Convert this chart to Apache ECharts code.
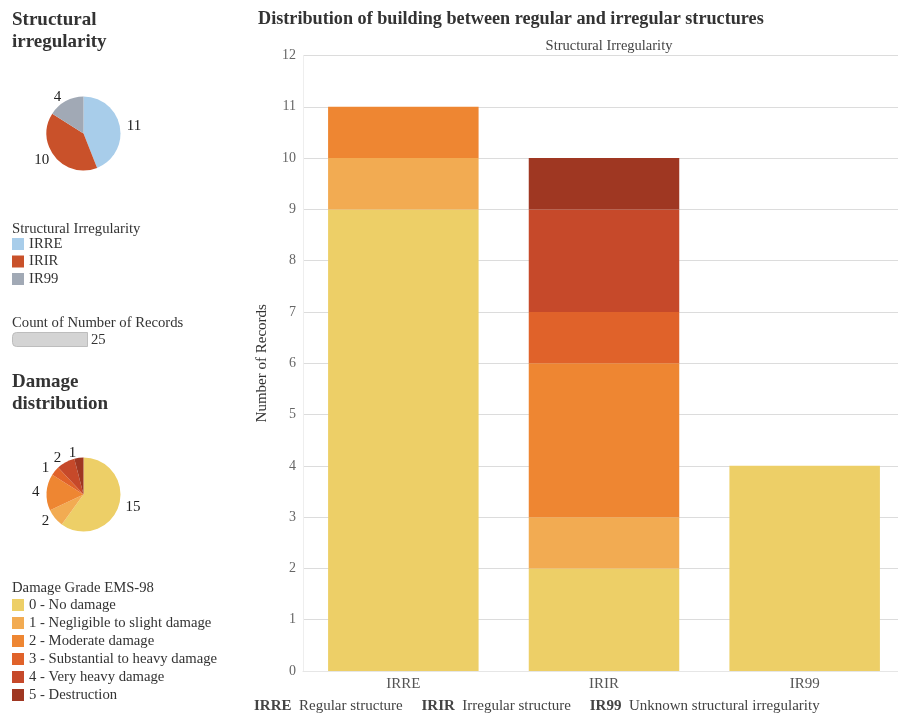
<!DOCTYPE html>
<html>
<head>
<meta charset="utf-8">
<script src="https://cdn.jsdelivr.net/npm/echarts@6/dist/echarts.min.js"></script>
<style>
  html, body { margin: 0; padding: 0; background: #fff; overflow: hidden; }
  #chart { width: 905px; height: 717px; }
</style>
</head>
<body>
<div id="chart"></div>
<script>
// Structure categories and their descriptions
const structures = ['IRRE', 'IRIR', 'IR99'];
const structureNames = ['Regular structure', 'Irregular structure', 'Unknown structural irregularity'];
const structureColors = ['#a8cdea', '#c9512a', '#a1a9b5'];

// Damage grades (EMS-98)
const grades = [
  '0 - No damage',
  '1 - Negligible to slight damage',
  '2 - Moderate damage',
  '3 - Substantial to heavy damage',
  '4 - Very heavy damage',
  '5 - Destruction'
];
const gradeColors = ['#edcf67', '#f2ab52', '#ee8632', '#e0622a', '#c6492a', '#9f3722'];

// Number of records per grade, one entry per structure (IRRE, IRIR, IR99)
const grade0 = [9, 2, 4];
const grade1 = [1, 1, 0];
const grade2 = [1, 3, 0];
const grade3 = [0, 1, 0];
const grade4 = [0, 2, 0];
const grade5 = [0, 1, 0];
const gradeValues = [grade0, grade1, grade2, grade3, grade4, grade5];

const yTicks = { min: 0, max: 12, interval: 1 };

const FONT = 'Liberation Serif';
const SMALL = 14.7;

const sum = a => a.reduce((s, v) => s + v, 0);
const structureTotals = structures.map((_, i) => sum(gradeValues.map(g => g[i])));
const gradeTotals = gradeValues.map(sum);
const totalRecords = sum(structureTotals);

const chart = echarts.init(document.getElementById('chart'));

const barSeries = grades.map((name, gi) => ({
  name,
  type: 'bar',
  stack: 'records',
  barWidth: '75%',
  itemStyle: { color: gradeColors[gi] },
  emphasis: { disabled: true },
  data: gradeValues[gi]
}));

const pieLabel = {
  show: true,
  position: 'outside',
  formatter: '{c}',
  fontFamily: FONT,
  fontSize: 15,
  color: '#222',
  distanceToLabelLine: 2
};

const smallTitle = { fontFamily: FONT, fontSize: SMALL, fontWeight: 'normal', color: '#333' };
const bigTitle = { fontFamily: FONT, fontSize: 19, fontWeight: 'bold', color: '#333', lineHeight: 22 };

chart.setOption({
  animation: false,
  textStyle: { fontFamily: FONT },
  title: [
    {
      text: 'Distribution of building between regular and irregular structures',
      left: 253, top: 5,
      textStyle: { fontFamily: FONT, fontSize: 18.2, fontWeight: 'bold', color: '#333' }
    },
    { text: 'Structural\nirregularity', left: 7, top: 4, textStyle: bigTitle },
    { text: 'Damage\ndistribution', left: 7, top: 366, textStyle: bigTitle },
    { text: 'Structural Irregularity', left: 7, top: 217, textStyle: smallTitle },
    { text: 'Count of Number of Records', left: 7, top: 311, textStyle: smallTitle },
    { text: 'Damage Grade EMS-98', left: 7, top: 576, textStyle: smallTitle },
    {
      text: 'Structural Irregularity',
      left: 604, top: 34, textAlign: 'center',
      textStyle: { fontFamily: FONT, fontSize: 14.5, fontWeight: 'normal', color: '#444' }
    }
  ],
  legend: [
    {
      data: structures,
      orient: 'vertical',
      left: 7, top: 231.5,
      icon: 'rect',
      itemWidth: 12, itemHeight: 12, itemGap: 2.5,
      selectedMode: false,
      textStyle: { fontFamily: FONT, fontSize: SMALL, color: '#333' }
    },
    {
      data: grades,
      orient: 'vertical',
      left: 7, top: 592.5,
      icon: 'rect',
      itemWidth: 12, itemHeight: 12, itemGap: 3,
      selectedMode: false,
      textStyle: { fontFamily: FONT, fontSize: SMALL, color: '#333' }
    }
  ],
  grid: { left: 303, top: 55.5, right: 0, bottom: 46 },
  xAxis: {
    type: 'category',
    data: structures,
    axisLine: { show: true, lineStyle: { color: '#e6e6e6' } },
    axisTick: { show: false },
    axisLabel: { fontFamily: FONT, fontSize: 15, color: '#555', margin: 6 }
  },
  yAxis: {
    type: 'value',
    min: yTicks.min, max: yTicks.max, interval: yTicks.interval,
    name: 'Number of Records',
    nameLocation: 'middle',
    nameGap: 33,
    nameTextStyle: { fontFamily: FONT, fontSize: 15, color: '#333' },
    axisLine: { show: true, lineStyle: { color: '#eeeeee' } },
    axisTick: { show: false },
    axisLabel: { fontFamily: FONT, fontSize: 14, color: '#666', margin: 7 },
    splitLine: { lineStyle: { color: '#dcdcdc' } }
  },
  series: [
    ...barSeries,
    {
      type: 'pie',
      name: 'Structural irregularity',
      center: [83.5, 133.5],
      radius: 37,
      startAngle: 90,
      clockwise: true,
      avoidLabelOverlap: false,
      label: pieLabel,
      labelLine: { show: false, length: 5, length2: 0 },
      emphasis: { disabled: true },
      data: structures.map((s, i) => ({ name: s, value: structureTotals[i], itemStyle: { color: structureColors[i] } }))
    },
    {
      type: 'pie',
      name: 'Damage distribution',
      center: [83.5, 494.5],
      radius: 37,
      startAngle: 90,
      clockwise: true,
      avoidLabelOverlap: false,
      label: pieLabel,
      labelLine: { show: false, length: 5, length2: 0 },
      emphasis: { disabled: true },
      data: grades.map((g, i) => ({ name: g, value: gradeTotals[i], itemStyle: { color: gradeColors[i] } }))
    }
  ],
  graphic: [
    // record count swatch
    {
      type: 'rect',
      left: 12, top: 332,
      shape: { width: 75, height: 14, r: [4, 0, 0, 4] },
      style: { fill: '#d4d4d4', stroke: '#bdbdbd', lineWidth: 1 }
    },
    {
      type: 'text',
      left: 91, top: 333,
      style: { text: String(totalRecords), fontFamily: FONT, fontSize: SMALL, fill: '#333' }
    },
    // category key under the bar chart
    {
      type: 'text',
      left: 254, top: 699,
      style: {
        text: structures.map((s, i) => '{b|' + s + '}  ' + structureNames[i]).join('     '),
        fontFamily: FONT, fontSize: 15, fill: '#444',
        rich: { b: { fontFamily: FONT, fontSize: 15, fontWeight: 'bold', fill: '#444' } }
      }
    }
  ]
});
</script>
</body>
</html>
